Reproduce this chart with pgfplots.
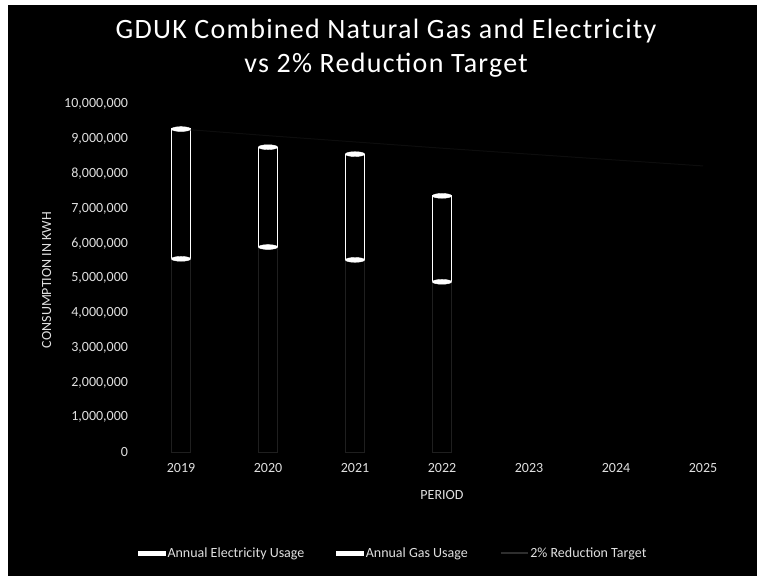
\documentclass[border=0pt]{standalone}
\usepackage{pgfplots}
\pgfplotsset{compat=1.18}
\usepackage{fontspec}
\setmainfont{Carlito}
\newfontfamily\titlefont[LetterSpace=4.5]{Carlito}
\definecolor{txt}{gray}{0.88}
\begin{document}
\begin{tikzpicture}[x=1pt,y=1pt]
\fill[white] (0,0) rectangle (757,576);
\fill[black] (8,0) rectangle (757,571);
\node[text=white, font=\titlefont\fontsize{28}{34}\selectfont, align=center] at (386,528) {GDUK Combined Natural Gas and Electricity\\vs 2\% Reduction Target};
\begin{axis}[at={(137.5pt,124pt)}, anchor=south west, scale only axis,
  width=609pt, height=348pt,
  ybar stacked, bar width=19pt,
  xmin=-0.5, xmax=6.5, ymin=0, ymax=10,
  xtick={0,1,2,3,4,5,6},
  xticklabels={2019,2020,2021,2022,2023,2024,2025},
  ytick={0,1,2,3,4,5,6,7,8,9,10},
  yticklabels={0,{1,000,000},{2,000,000},{3,000,000},{4,000,000},{5,000,000},{6,000,000},{7,000,000},{8,000,000},{9,000,000},{10,000,000}},
  major tick length=0pt,
  ticklabel style={text=txt, font=\fontsize{14}{16}\selectfont},
  xticklabel style={yshift=-8pt},
  yticklabel style={xshift=-6pt},
  x axis line style={draw=black!85!white},
  y axis line style={draw=none},
  axis background/.style={fill=black},
  ylabel={CONSUMPTION IN KWH},
  ylabel style={at={(axis description cs:-0.149,0.494)}, anchor=center, text=txt, font=\fontsize{14}{16}\selectfont},
  xlabel={PERIOD},
  xlabel style={at={(axis description cs:0.5,-0.124)}, anchor=center, text=txt, font=\fontsize{14}{16}\selectfont},
]
\addplot[fill=black, draw=black!88!white, line width=0.8pt] coordinates {(0,5.55) (1,5.89) (2,5.52) (3,4.89)};
\addplot[fill=black, draw=white, line width=1.2pt] coordinates {(0,3.73) (1,2.87) (2,3.04) (3,2.47)};
\end{axis}
\begin{axis}[at={(137.5pt,124pt)}, anchor=south west, scale only axis,
  width=609pt, height=348pt, hide axis,
  xmin=-0.5, xmax=6.5, ymin=0, ymax=10,
  legend columns=3,
  legend style={at={(0.42,-0.29)}, anchor=center, draw=none, fill=none,
    text=txt, font=\fontsize{14}{16}\selectfont,
    /tikz/every even column/.append style={column sep=30pt}},
]
\addlegendimage{legend image code/.code={\fill[white] (-4pt,-2pt) rectangle (23pt,2pt);}}
\addlegendentry{Annual Electricity Usage}
\addlegendimage{legend image code/.code={\fill[white] (-4pt,-2pt) rectangle (23pt,2pt);}}
\addlegendentry{Annual Gas Usage}
\addplot[black!95!white, line width=1pt, legend image code/.code={\draw[black!82!white, line width=1.5pt] (-4pt,0pt) -- (23pt,0pt);}] coordinates {(0,9.28) (1,9.09) (2,8.91) (3,8.73) (4,8.56) (5,8.39) (6,8.22)};
\addlegendentry{2\% Reduction Target}
\addplot[only marks, mark=*, mark size=3pt, mark options={fill=white, draw=white, xscale=3.2, yscale=0.8}, forget plot] coordinates {(0,9.28) (1,8.76) (2,8.56) (3,7.36)};
\addplot[only marks, mark=*, mark size=3pt, mark options={fill=white, draw=white, xscale=3.2, yscale=0.8}, forget plot] coordinates {(0,5.55) (1,5.89) (2,5.52) (3,4.89)};
\end{axis}
\end{tikzpicture}
\end{document}
